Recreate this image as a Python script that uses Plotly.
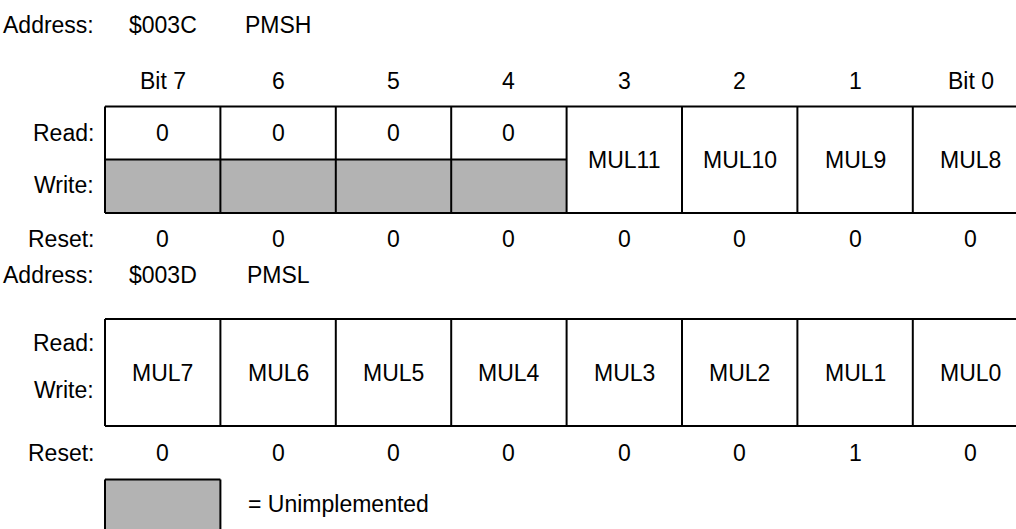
import plotly.graph_objects as go

# ---- data ----
bit_labels = ["Bit 7", "6", "5", "4", "3", "2", "1", "Bit 0"]
pmsh_address = "$003C"
pmsh_name = "PMSH"
pmsh_read = ["0", "0", "0", "0", "MUL11", "MUL10", "MUL9", "MUL8"]
pmsh_unimplemented = [True, True, True, True, False, False, False, False]
pmsh_reset = ["0", "0", "0", "0", "0", "0", "0", "0"]

pmsl_address = "$003D"
pmsl_name = "PMSL"
pmsl_bits = ["MUL7", "MUL6", "MUL5", "MUL4", "MUL3", "MUL2", "MUL1", "MUL0"]
pmsl_reset = ["0", "0", "0", "0", "0", "0", "1", "0"]

legend_text = "= Unimplemented"

# ---- layout geometry (page pixel coordinates) ----
W, H = 1016, 529
X0 = 105.0
CW = 115.4
LABEL_X = 96
FONT = "Liberation Sans, Arial, Helvetica, sans-serif"
FS = 23
GRAY = "#b3b3b3"
LW = 2

def cx(i):
    return X0 + CW * (i + 0.5)

def xl(i):
    return X0 + CW * i

shapes = []
ann = []

def text(x, y, s, anchor="center"):
    ann.append(dict(x=x, y=y, xref="x", yref="y", text=s, showarrow=False,
                    xanchor=anchor, yanchor="middle",
                    font=dict(family=FONT, size=FS, color="black")))

def line(x0, y0, x1, y1):
    shapes.append(dict(type="line", xref="x", yref="y", x0=x0, y0=y0, x1=x1, y1=y1,
                       line=dict(color="black", width=LW)))

def rect(x0, y0, x1, y1, fill):
    shapes.append(dict(type="rect", xref="x", yref="y", x0=x0, y0=y0, x1=x1, y1=y1,
                       fillcolor=fill, line=dict(width=0), layer="above"))

# ---- register 1 ----
yA1, yBits, yT1, yM1, yB1, yRs1 = 25, 81, 106.5, 159.5, 213, 239
text(LABEL_X, yA1, "Address:", "right")
text(cx(0), yA1, pmsh_address)
text(cx(1), yA1, pmsh_name)
for i, b in enumerate(bit_labels):
    text(cx(i), yBits, b)

for i in range(8):
    if pmsh_unimplemented[i]:
        rect(xl(i), yM1, xl(i + 1), yB1, GRAY)
        text(cx(i), (yT1 + yM1) / 2, pmsh_read[i])
    else:
        text(cx(i), (yT1 + yB1) / 2, pmsh_read[i])
    text(cx(i), yRs1, pmsh_reset[i])

n_unimp = sum(pmsh_unimplemented)
line(xl(0), yT1, xl(8), yT1)
line(xl(0), yB1, xl(8), yB1)
line(xl(0), yM1, xl(n_unimp), yM1)
for i in range(9):
    line(xl(i), yT1, xl(i), yB1)

text(LABEL_X, (yT1 + yM1) / 2, "Read:", "right")
text(LABEL_X, (yM1 + yB1) / 2 - 1, "Write:", "right")
text(LABEL_X, yRs1, "Reset:", "right")

# ---- register 2 ----
yA2, yT2, yB2, yRs2 = 275, 319, 426, 453
text(LABEL_X, yA2, "Address:", "right")
text(cx(0), yA2, pmsl_address)
text(cx(1), yA2, pmsl_name)
for i in range(8):
    text(cx(i), (yT2 + yB2) / 2, pmsl_bits[i])
    text(cx(i), yRs2, pmsl_reset[i])
line(xl(0), yT2, xl(8), yT2)
line(xl(0), yB2, xl(8), yB2)
for i in range(9):
    line(xl(i), yT2, xl(i), yB2)
text(LABEL_X, 343, "Read:", "right")
text(LABEL_X, 390, "Write:", "right")
text(LABEL_X, yRs2, "Reset:", "right")

# ---- legend ----
yL = 479.5
rect(xl(0), yL, xl(1), H + 5, GRAY)
line(xl(0), yL, xl(1), yL)
line(xl(0), yL, xl(0), H + 5)
line(xl(1), yL, xl(1), H + 5)
text(xl(1) + 26, 504, legend_text, "left")

fig = go.Figure()
fig.update_layout(
    width=W, height=H, margin=dict(l=0, r=0, t=0, b=0),
    paper_bgcolor="white", plot_bgcolor="white",
    xaxis=dict(range=[0, W], visible=False, fixedrange=True),
    yaxis=dict(range=[H, 0], visible=False, fixedrange=True),
    shapes=shapes, annotations=ann, showlegend=False,
)
fig.write_html(
    "out.html",
    config={"displayModeBar": False},
    post_script="document.body.style.margin='0';document.body.style.overflow='hidden';",
)
